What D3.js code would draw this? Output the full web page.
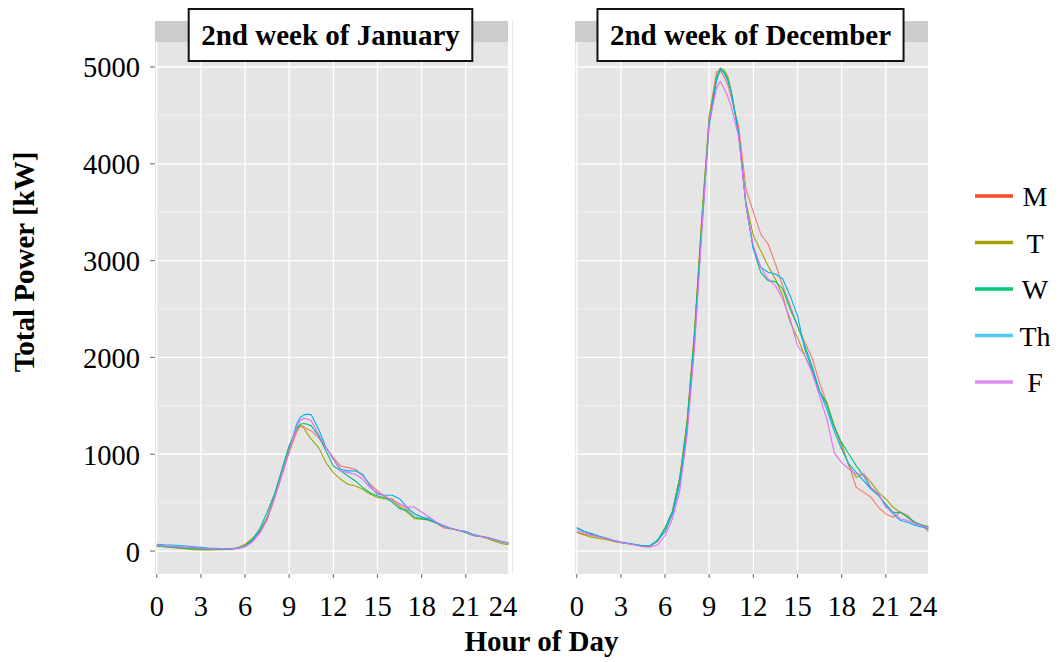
<!DOCTYPE html>
<html>
<head>
<meta charset="utf-8">
<script src="https://cdn.jsdelivr.net/npm/d3@7"></script>
<style>
  body { margin: 0; background: #fff; }
  svg { font-family: "Liberation Serif", "Times New Roman", serif; }
</style>
</head>
<body>
<div id="chart"></div>
<script>
// hour of day (shared by every series)
const hours = [0, 0.5, 1, 1.5, 2, 2.5, 3, 3.5, 4, 4.5, 5, 5.5, 6, 6.5, 7, 7.5, 8, 8.5, 9, 9.5, 9.75,
  10, 10.25, 10.5, 11, 11.5, 12, 12.5, 13, 13.5, 14, 14.5, 15, 15.5, 16, 16.5, 17, 17.5, 18, 18.5,
  19, 19.5, 20, 20.5, 21, 21.5, 22, 22.5, 23, 23.5, 23.9];

const days = ["M", "T", "W", "Th", "F"];
const panels = ["2nd week of January", "2nd week of December"];

// total power [kW], 2nd week of January
const janM = [55, 50, 45, 40, 35, 30, 25, 22, 20, 20, 20, 28, 45, 100, 190, 320, 540, 780, 1020, 1224, 1293,
  1283, 1259, 1241, 1172, 1069, 966, 879, 862, 845, 776, 690, 620, 558, 524, 472, 438, 386, 352, 317,
  290, 238, 230, 214, 197, 162, 150, 138, 117, 93, 83];
const janT = [50, 45, 38, 30, 22, 15, 12, 12, 14, 15, 18, 35, 70, 130, 210, 350, 570, 810, 1060, 1260, 1303,
  1269, 1207, 1155, 1069, 914, 810, 741, 690, 672, 638, 586, 552, 541, 541, 455, 403, 335, 330, 320,
  290, 255, 231, 214, 197, 162, 150, 128, 100, 76, 66];
const janW = [55, 48, 40, 35, 30, 25, 20, 18, 18, 18, 20, 30, 55, 120, 230, 400, 590, 840, 1090, 1259, 1310,
  1317, 1310, 1293, 1190, 1034, 879, 828, 776, 724, 655, 603, 569, 550, 507, 438, 420, 352, 335, 320,
  290, 255, 231, 214, 190, 160, 150, 138, 115, 92, 80];
const janTh = [70, 65, 62, 58, 52, 45, 38, 32, 28, 25, 25, 30, 50, 110, 200, 340, 560, 800, 1040, 1310, 1379,
  1407, 1414, 1407, 1259, 1069, 948, 845, 828, 828, 793, 672, 586, 576, 576, 541, 455, 386, 352, 335,
  290, 260, 235, 214, 205, 172, 155, 140, 120, 96, 86];
const janF = [60, 55, 50, 45, 40, 35, 30, 28, 25, 24, 22, 28, 45, 95, 185, 330, 550, 790, 1040, 1276, 1352,
  1372, 1362, 1345, 1207, 1069, 948, 828, 810, 793, 741, 655, 603, 570, 524, 490, 455, 455, 403, 352,
  300, 265, 235, 214, 197, 165, 152, 138, 117, 93, 83];

// total power [kW], 2nd week of December
const decM = [195, 175, 161, 145, 127, 105, 86, 75, 65, 52, 51, 100, 230, 400, 743, 1325, 2250, 3420, 4490, 4950, 4960,
  4900, 4820, 4680, 4386, 3741, 3500, 3276, 3172, 2966, 2741, 2534, 2328, 2155, 1993, 1736, 1531, 1291, 1086, 880,
  658, 606, 555, 452, 384, 349, 400, 366, 281, 264, 202];
const decT = [195, 165, 144, 130, 120, 100, 86, 75, 65, 52, 51, 105, 235, 410, 760, 1350, 2270, 3450, 4490, 4900, 4990,
  4970, 4910, 4750, 4317, 3600, 3259, 3103, 2948, 2810, 2638, 2362, 2207, 2017, 1856, 1651, 1531, 1291, 1103, 880,
  760, 795, 709, 606, 538, 452, 400, 349, 281, 270, 253];
const decW = [243, 205, 175, 150, 130, 108, 88, 78, 65, 52, 55, 115, 240, 410, 750, 1320, 2230, 3400, 4440, 4880, 4985,
  4950, 4880, 4740, 4317, 3569, 3121, 2879, 2793, 2783, 2707, 2500, 2328, 2121, 1908, 1651, 1514, 1280, 1120, 1000,
  880, 777, 640, 572, 486, 400, 400, 349, 298, 264, 247];
const decTh = [236, 205, 180, 155, 135, 112, 92, 80, 68, 55, 58, 110, 200, 380, 690, 1250, 2150, 3330, 4386, 4860, 4970,
  4940, 4860, 4740, 4317, 3569, 3121, 2931, 2879, 2862, 2810, 2638, 2431, 2086, 1873, 1651, 1462, 1240, 1051, 897,
  812, 726, 640, 589, 469, 384, 315, 298, 264, 247, 229];
const decF = [212, 190, 165, 148, 130, 108, 88, 75, 60, 45, 41, 65, 161, 332, 623, 1200, 2100, 3300, 4438, 4780, 4850,
  4780, 4700, 4590, 4280, 3569, 3155, 2931, 2810, 2741, 2603, 2397, 2121, 2017, 1839, 1600, 1360, 1017, 914, 846,
  795, 795, 658, 589, 452, 400, 332, 315, 281, 264, 235];

const yTicks = [0, 1000, 2000, 3000, 4000, 5000];
const xTicks = [0, 3, 6, 9, 12, 15, 18, 21, 24];

const panelData = [
  [janM, janT, janW, janTh, janF],
  [decM, decT, decW, decTh, decF]
];

const lineColors = ["#F8766D", "#A3A500", "#00BF7D", "#00B0F6", "#E76BF3"];
const legendColors = ["#FA4A26", "#A3A000", "#00C873", "#4FC8FA", "#DA8CF5"];

const W = 1059, H = 662;
const panelW = 353, panelTop = 42, panelBottom = 574, stripTop = 21;
const panelX = [155, 575];

const svg = d3.select("#chart").append("svg")
  .attr("width", W)
  .attr("height", H);

const x = d3.scaleLinear().domain([-0.12, 23.87]).range([0, panelW]);
const y = d3.scaleLinear().domain([-237, 5258]).range([panelBottom - panelTop, 0]);

// faint divider right of first panel
svg.append("line")
  .attr("x1", 512.5).attr("x2", 512.5)
  .attr("y1", stripTop).attr("y2", panelBottom)
  .style("stroke", "#e9e9e9")
  .style("stroke-width", 1);

panels.forEach((title, p) => {
  const g = svg.append("g").attr("transform", `translate(${panelX[p]},${panelTop})`);

  // strip
  svg.append("rect")
    .attr("x", panelX[p]).attr("y", stripTop)
    .attr("width", panelW).attr("height", panelTop - stripTop)
    .style("fill", "#CCCCCC");

  // panel background
  g.append("rect")
    .attr("width", panelW)
    .attr("height", panelBottom - panelTop)
    .style("fill", "#E5E5E5");

  // minor grid
  const minorY = d3.range(500, 5500, 1000);
  g.selectAll(".minor-y").data(minorY).enter().append("line")
    .attr("x1", 0).attr("x2", panelW)
    .attr("y1", d => y(d)).attr("y2", d => y(d))
    .style("stroke", "#F2F2F2").style("stroke-width", 0.8);

  // major grid
  g.selectAll(".major-y").data(yTicks).enter().append("line")
    .attr("x1", 0).attr("x2", panelW)
    .attr("y1", d => y(d)).attr("y2", d => y(d))
    .style("stroke", "#FFFFFF").style("stroke-width", 1.3);
  g.selectAll(".major-x").data(xTicks.filter(d => x(d) < panelW)).enter().append("line")
    .attr("y1", 0).attr("y2", panelBottom - panelTop)
    .attr("x1", d => x(d)).attr("x2", d => x(d))
    .style("stroke", "#FFFFFF").style("stroke-width", 1.3);

  // series lines
  const line = d3.line()
    .x((d, i) => x(hours[i]))
    .y(d => y(d));
  panelData[p].forEach((series, s) => {
    g.append("path")
      .datum(series)
      .attr("d", line)
      .style("fill", "none")
      .style("stroke", lineColors[s])
      .style("stroke-width", 1.1)
      .style("stroke-linejoin", "round");
  });

  // x ticks and labels
  const xg = svg.append("g").attr("transform", `translate(${panelX[p]},${panelBottom})`);
  xg.selectAll(".xtick").data(xTicks.filter(d => x(d) < panelW)).enter().append("line")
    .attr("x1", d => x(d)).attr("x2", d => x(d))
    .attr("y1", 0).attr("y2", 4)
    .style("stroke", "#7F7F7F").style("stroke-width", 1.2);
  xg.selectAll(".xlabel").data(xTicks).enter().append("text")
    .attr("x", d => Math.min(x(d), panelW - 5))
    .attr("y", 41.5)
    .attr("text-anchor", "middle")
    .style("font-size", "28.5px")
    .style("fill", "#000")
    .text(d => d);

  // title box
  const tb = svg.append("g");
  const tt = tb.append("text")
    .attr("x", panelX[p] + panelW / 2 - 1)
    .attr("y", 45)
    .attr("text-anchor", "middle")
    .style("font-size", "29px")
    .style("font-weight", "bold")
    .text(title);
  const tw = tt.node().getComputedTextLength();
  tb.insert("rect", "text")
    .attr("x", panelX[p] + panelW / 2 - 1 - tw / 2 - 12.5)
    .attr("y", 9)
    .attr("width", tw + 25)
    .attr("height", 52)
    .style("fill", "#fff")
    .style("stroke", "#111")
    .style("stroke-width", 2);
});

// y axis on first panel
const yg = svg.append("g").attr("transform", `translate(${panelX[0]},${panelTop})`);
yg.selectAll(".ytick").data(yTicks).enter().append("line")
  .attr("x1", -5).attr("x2", 0)
  .attr("y1", d => y(d)).attr("y2", d => y(d))
  .style("stroke", "#7F7F7F").style("stroke-width", 1.2);
yg.selectAll(".ylabel").data(yTicks).enter().append("text")
  .attr("x", -15)
  .attr("y", d => y(d) + 10.5)
  .attr("text-anchor", "end")
  .style("font-size", "28.5px")
  .text(d => d);

// axis titles
svg.append("text")
  .attr("x", (panelX[0] + panelX[1] + panelW) / 2)
  .attr("y", 651)
  .attr("text-anchor", "middle")
  .style("font-size", "29px")
  .style("font-weight", "bold")
  .text("Hour of Day");

svg.append("text")
  .attr("transform", "translate(34,262) rotate(-90)")
  .attr("text-anchor", "middle")
  .style("font-size", "29px")
  .style("font-weight", "bold")
  .text("Total Power [kW]");

// legend
const lg = svg.append("g");
days.forEach((d, i) => {
  const ly = 196 + i * 46.5;
  lg.append("line")
    .attr("x1", 975).attr("x2", 1013)
    .attr("y1", ly).attr("y2", ly)
    .style("stroke", legendColors[i])
    .style("stroke-width", 3.5);
  lg.append("text")
    .attr("x", 1035)
    .attr("y", ly + 10)
    .attr("text-anchor", "middle")
    .style("font-size", "28px")
    .text(d);
});
</script>
</body>
</html>
